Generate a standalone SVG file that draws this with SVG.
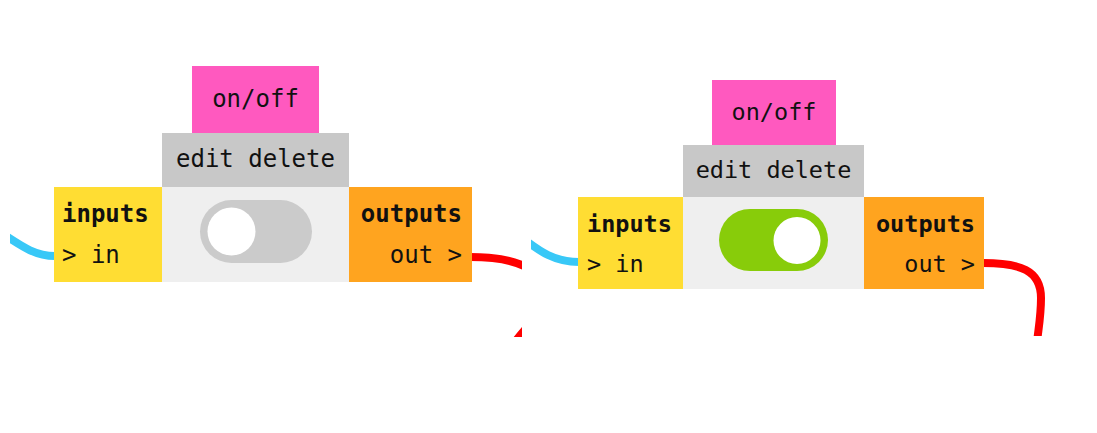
<svg xmlns="http://www.w3.org/2000/svg" width="1097" height="433" viewBox="0 0 1097 433">
  <style>
    .t { font-family: "DejaVu Sans Mono", "Liberation Mono", monospace; fill: #111; }
    .l { font-size: 24px; }
    .r { font-size: 23.5px; }
    .b { font-weight: bold; }
    .mid { text-anchor: middle; }
    .end { text-anchor: end; }
    .pink { fill: #ff59bf; }
    .menu { fill: #c8c8c8; }
    .body { fill: #efefef; }
    .in { fill: #ffdd33; }
    .out { fill: #ffa41f; }
    .wire { fill: none; stroke-width: 8; }
    .blue { stroke: #38c8f7; }
    .red { stroke: #ff0000; }
  </style>
  <defs>
    <clipPath id="clipL"><rect x="10" y="0" width="512" height="337"/></clipPath>
    <clipPath id="clipR"><rect x="531" y="0" width="515" height="336"/></clipPath>
  </defs>
  <rect width="1097" height="433" fill="#ffffff"/>

  <g id="connectors">
    <path class="wire blue" clip-path="url(#clipL)" d="M0,232 C20,245 34,256 55,256"/>
    <path class="wire red" clip-path="url(#clipL)" d="M470,257 C510,257 543,265 543,295 C543,315 527,325 515,342"/>
    <path class="wire blue" clip-path="url(#clipR)" d="M520,236 C540,252 555,262 579,262"/>
    <path class="wire red" clip-path="url(#clipR)" d="M983,263 C1020,263 1041,270 1041,298 C1041,315 1039,325 1037,342"/>
  </g>

  <!-- Left panel (off) -->
  <g id="left-onoff">
    <rect class="pink" x="192" y="66" width="127" height="67"/>
    <text class="t l mid" x="255.5" y="107">on/off</text>
  </g>
  <g id="left-edit-delete">
    <rect class="menu" x="162" y="133" width="187" height="54"/>
    <text class="t l mid" x="255.5" y="167">edit delete</text>
  </g>
  <g id="left-toggle">
    <rect class="body" x="162" y="187" width="187" height="95"/>
    <rect x="200" y="200" width="112" height="63" rx="31.5" fill="#cbcbcb"/>
    <circle cx="231.5" cy="231.5" r="24" fill="#ffffff"/>
  </g>
  <g id="left-inputs">
    <rect class="in" x="54" y="187" width="108" height="95"/>
    <text class="t l b" x="62" y="222">inputs</text>
    <text class="t l" x="62" y="263">&gt; in</text>
  </g>
  <g id="left-outputs">
    <rect class="out" x="349" y="187" width="123" height="95"/>
    <text class="t l b end" x="462" y="222">outputs</text>
    <text class="t l end" x="462" y="263">out &gt;</text>
  </g>

  <!-- Right panel (on) -->
  <g id="right-onoff">
    <rect class="pink" x="712" y="80" width="124" height="65"/>
    <text class="t r mid" x="774" y="120">on/off</text>
  </g>
  <g id="right-edit-delete">
    <rect class="menu" x="683" y="145" width="181" height="52"/>
    <text class="t r mid" x="773.5" y="178">edit delete</text>
  </g>
  <g id="right-toggle">
    <rect class="body" x="683" y="197" width="181" height="92"/>
    <rect x="719" y="209" width="109" height="62" rx="31" fill="#88cc0a"/>
    <circle cx="797" cy="240.5" r="23.5" fill="#ffffff"/>
  </g>
  <g id="right-inputs">
    <rect class="in" x="578" y="197" width="105" height="92"/>
    <text class="t r b" x="587" y="231.5">inputs</text>
    <text class="t r" x="587" y="271.5">&gt; in</text>
  </g>
  <g id="right-outputs">
    <rect class="out" x="864" y="197" width="120" height="92"/>
    <text class="t r b end" x="975" y="231.5">outputs</text>
    <text class="t r end" x="975" y="271.5">out &gt;</text>
  </g>
</svg>
